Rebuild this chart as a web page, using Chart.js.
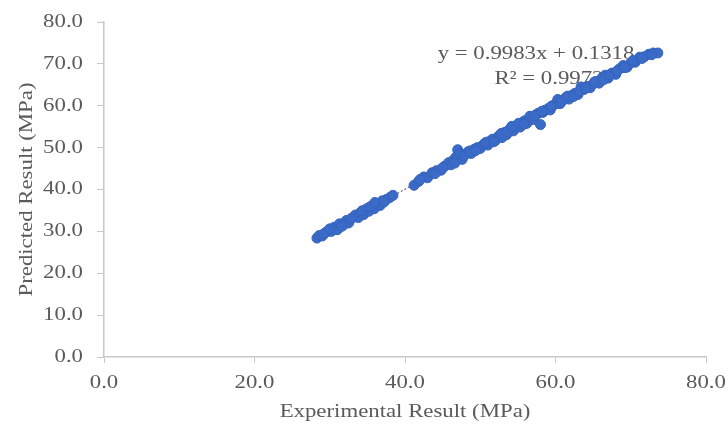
<!DOCTYPE html>
<html>
<head>
<meta charset="utf-8">
<script src="https://cdn.jsdelivr.net/npm/chart.js@4.4.0/dist/chart.umd.min.js"></script>
<style>
  html, body { margin: 0; padding: 0; background: #fff; }
  #wrap { width: 728px; height: 429px; }
</style>
</head>
<body>
<div id="wrap"><canvas id="myChart" width="728" height="429"></canvas></div>
<script>
// experimental (x) vs predicted (y)
const experimental = [
    28.3, 28.6, 29.0, 29.5, 30.2, 30.6, 31.0, 31.3, 31.8, 32.2, 32.5, 33.0, 33.4, 33.8,
    34.1, 34.5, 34.9, 35.2, 35.6, 35.9, 36.3, 36.7, 37.0, 37.5, 38.0, 38.4,
    41.2, 41.8, 42.5, 43.0, 43.6, 44.2, 44.8, 45.3, 45.8, 46.1, 46.4, 46.8, 47.0, 47.3,
    47.6, 48.0, 48.4, 48.8, 49.2, 49.6, 50.0, 50.3, 50.6, 51.0, 51.3, 51.6, 52.0, 52.3,
    52.6, 52.9, 53.2, 53.5, 53.8, 54.1, 54.4, 54.7, 55.0, 55.3, 55.6, 55.9, 56.2, 56.5,
    56.8, 57.1, 57.4, 57.7, 58.0, 58.3, 58.6, 59.0, 59.3, 59.6, 60.0, 60.3, 60.6, 61.0,
    61.4, 61.8, 62.2, 62.6, 63.0, 63.4, 63.8, 64.2, 64.6, 65.0, 65.4, 65.8, 66.2, 66.6,
    67.0, 67.5, 68.0, 68.5, 69.0, 69.5, 70.0, 70.6, 71.2, 71.8, 72.4, 73.0, 73.6,
    29.2, 30.0, 31.6, 32.8, 34.3, 35.4, 36.0, 37.2, 42.0, 44.0, 45.0, 46.6, 47.8, 48.6,
    49.4, 50.8, 51.8, 52.8, 53.6, 54.2, 55.1, 55.8, 56.6, 57.2, 58.2, 59.4, 60.8, 61.6,
    62.4, 63.2, 64.0, 65.2, 66.4, 67.2, 68.2, 69.2, 70.3, 71.5, 72.8
];
const predicted = [
    28.4, 29.0, 28.9, 29.8, 30.0, 31.0, 30.4, 31.8, 31.5, 32.6, 32.0, 33.2, 33.9, 33.3,
    34.5, 34.0, 35.4, 34.8, 36.0, 35.4, 36.5, 36.2, 37.3, 37.6, 38.1, 38.6,
    41.0, 41.9, 43.0, 42.8, 44.0, 44.5, 44.6, 45.6, 46.4, 45.9, 47.0, 47.8, 49.5, 48.5,
    47.2, 48.4, 49.0, 48.6, 49.6, 50.0, 49.8, 50.5, 51.0, 50.6, 51.5, 52.0, 51.7, 52.5,
    53.0, 52.4, 53.6, 53.1, 54.2, 54.6, 54.0, 55.0, 55.5, 54.9, 56.0, 56.4, 55.8, 56.8,
    57.2, 56.7, 57.8, 58.2, 55.5, 58.4, 58.9, 59.3, 59.0, 60.0, 60.4, 61.5, 60.5, 61.3,
    62.0, 61.6, 62.5, 63.0, 62.7, 64.5, 63.9, 64.6, 64.3, 65.2, 65.8, 65.4, 66.7, 67.3,
    66.6, 67.8, 67.5, 68.8, 69.6, 69.2, 70.2, 70.4, 71.6, 71.7, 72.3, 72.6, 72.6,
    29.4, 30.6, 31.2, 33.0, 34.9, 35.9, 36.9, 37.0, 42.4, 43.8, 45.2, 46.3, 48.0, 49.2,
    49.3, 51.3, 51.4, 53.4, 53.8, 55.1, 55.8, 55.6, 57.5, 57.6, 58.7, 59.8, 61.0, 62.3,
    62.2, 63.5, 64.2, 65.7, 66.2, 67.4, 68.3, 69.1, 70.8, 71.3, 72.2
];

// linear trendline end points (y = 0.9983x + 0.1318)
const trendX = [28.3, 73.6];
const trendY = [28.38, 73.61];

const xTicks = [0, 20, 40, 60, 80];
const yTicks = [0, 10, 20, 30, 40, 50, 60, 70, 80];
const equationLines = ['y = 0.9983x + 0.1318', 'R\u00b2 = 0.9972'];
const xTitle = 'Experimental Result (MPa)';
const yTitle = 'Predicted Result (MPa)';

const axisColor = '#c8c8c8';
const textColor = '#5a5a5a';
const serif = "'Liberation Serif', 'Times New Roman', serif";
const stretch = 1.2; // the original text is a bit wide

function wideText(ctx, text, x, y, align) {
    ctx.save();
    ctx.translate(x, y);
    ctx.scale(stretch, 1);
    ctx.textAlign = align;
    ctx.fillText(text, 0, 0);
    ctx.restore();
}

// axis labels and titles, drawn by hand so they can be stretched
const labelPlugin = {
    id: 'labels',
    afterDraw(chart) {
        const ctx = chart.ctx;
        const x = chart.scales.x;
        const y = chart.scales.y;
        ctx.save();
        ctx.fillStyle = textColor;
        ctx.font = '19px ' + serif;
        ctx.textBaseline = 'middle';
        yTicks.forEach(v => wideText(ctx, v.toFixed(1), 83, y.getPixelForValue(v), 'right'));
        xTicks.forEach(v => wideText(ctx, v.toFixed(1), x.getPixelForValue(v), 383, 'center'));
        wideText(ctx, xTitle, (x.left + x.right) / 2, 412, 'center');
        ctx.save();
        ctx.translate(27, (y.top + y.bottom) / 2);
        ctx.rotate(-Math.PI / 2);
        ctx.scale(stretch, 1);
        ctx.textAlign = 'center';
        ctx.fillText(yTitle, 0, 0);
        ctx.restore();
        ctx.restore();
    }
};

const equationPlugin = {
    id: 'equationLabel',
    beforeDatasetsDraw(chart) {
        const ctx = chart.ctx;
        ctx.save();
        ctx.fillStyle = textColor;
        ctx.font = '19px ' + serif;
        ctx.textBaseline = 'middle';
        wideText(ctx, equationLines[0], 536, 54, 'center');
        wideText(ctx, equationLines[1], 549, 79, 'center');
        ctx.restore();
    }
};

const points = experimental.map((v, i) => ({ x: v, y: predicted[i] }));
const trend = trendX.map((v, i) => ({ x: v, y: trendY[i] }));

const ctx = document.getElementById('myChart').getContext('2d');
const myChart = new Chart(ctx, {
    type: 'scatter',
    data: {
        datasets: [
            {
                type: 'line',
                data: trend,
                borderColor: '#3b3b3b',
                borderWidth: 1,
                borderDash: [2, 2],
                pointRadius: 0,
                fill: false,
                order: 2
            },
            {
                data: points,
                backgroundColor: '#3b6bc8',
                borderColor: '#3563bd',
                borderWidth: 1,
                pointRadius: 5,
                order: 1
            }
        ]
    },
    options: {
        responsive: false,
        animation: false,
        layout: { padding: { top: 22, right: 22, bottom: 0, left: 0 } },
        plugins: {
            legend: { display: false },
            tooltip: { enabled: false }
        },
        scales: {
            x: {
                type: 'linear',
                min: 0,
                max: 80,
                ticks: { stepSize: 20, display: false },
                grid: { drawOnChartArea: false, drawTicks: true, tickLength: 6, color: axisColor },
                border: { color: axisColor, width: 1.5 },
                afterFit: scale => { scale.height = 72; }
            },
            y: {
                type: 'linear',
                min: 0,
                max: 80,
                ticks: { stepSize: 10, display: false },
                grid: { drawOnChartArea: false, drawTicks: true, tickLength: 7, color: axisColor },
                border: { color: axisColor, width: 1.5 },
                afterFit: scale => { scale.width = 104; }
            }
        }
    },
    plugins: [equationPlugin, labelPlugin]
});
</script>
</body>
</html>
